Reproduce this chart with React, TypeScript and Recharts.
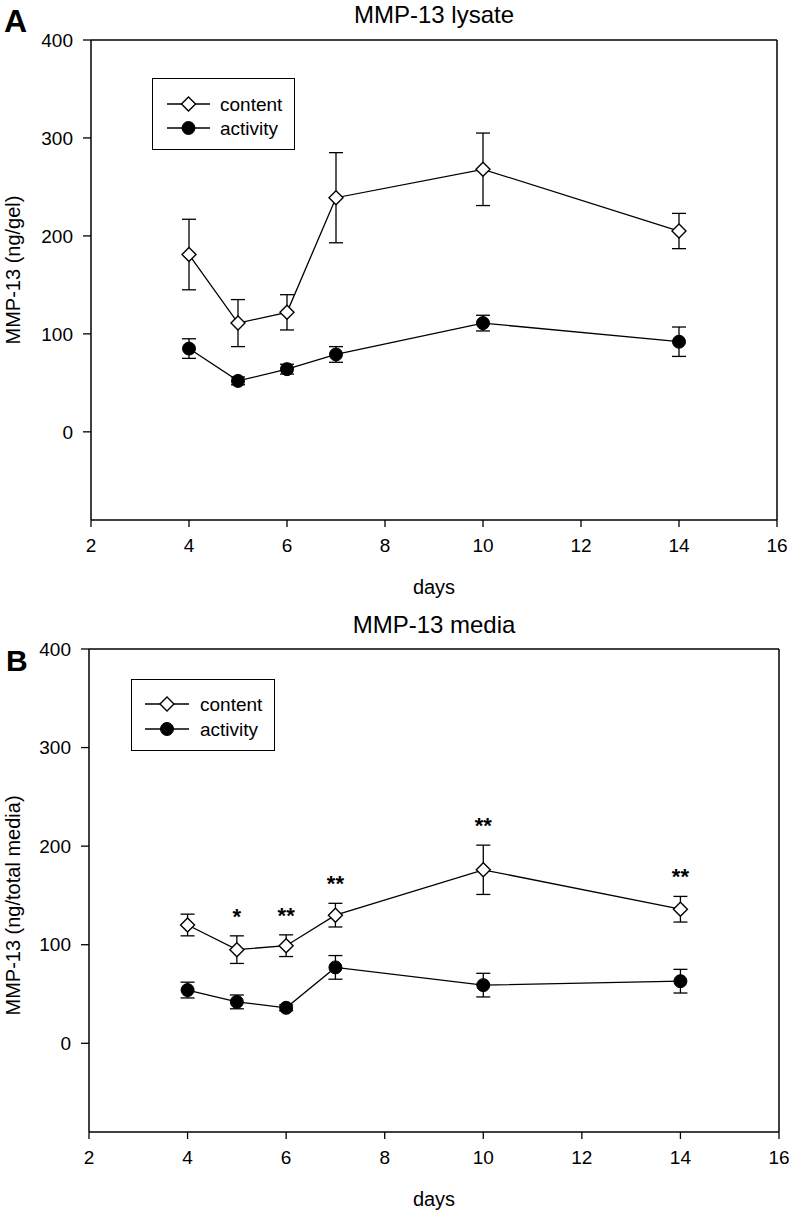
import React from 'react';
import { LineChart, Line, XAxis, YAxis, ErrorBar, ReferenceLine, Label, LabelList, Legend } from 'recharts';

// ---- data ----
const days = [4, 5, 6, 7, 10, 14];
const xTicks = [2, 4, 6, 8, 10, 12, 14, 16];
const yTicks = [0, 100, 200, 300, 400];

const lysateContent = [181, 111, 122, 239, 268, 205];
const lysateContentErr = [36, 24, 18, 46, 37, 18];
const lysateActivity = [85, 52, 64, 79, 111, 92];
const lysateActivityErr = [10, 4, 5, 8, 8, 15];

const mediaContent = [120, 95, 99, 130, 176, 136];
const mediaContentErr = [11, 14, 11, 12, 25, 13];
const mediaActivity = [54, 42, 36, 77, 59, 63];
const mediaActivityErr = [8, 7, 3, 12, 12, 12];
const mediaStars = ['', '*', '**', '**', '**', '**'];

const FONT = 'Arial, "Liberation Sans", Helvetica, sans-serif';

const lysateData = days.map((d, i) => ({
  day: d,
  content: lysateContent[i],
  contentErr: lysateContentErr[i],
  activity: lysateActivity[i],
  activityErr: lysateActivityErr[i],
}));

const mediaData = days.map((d, i) => ({
  day: d,
  content: mediaContent[i],
  contentErr: mediaContentErr[i],
  activity: mediaActivity[i],
  activityErr: mediaActivityErr[i],
  starAnchor: mediaStars[i] ? mediaContent[i] + mediaContentErr[i] : null,
  star: mediaStars[i],
}));

const DiamondDot = (props: any) => {
  const { cx, cy, index } = props;
  if (cx == null || cy == null) return <g key={`dn${index}`} />;
  const r = 7;
  return (
    <polygon
      key={`dd${index}`}
      points={`${cx},${cy - r} ${cx + r},${cy} ${cx},${cy + r} ${cx - r},${cy}`}
      fill="#fff"
      stroke="#000"
      strokeWidth={1.4}
    />
  );
};

const CircleDot = (props: any) => {
  const { cx, cy, index } = props;
  if (cx == null || cy == null) return <g key={`cn${index}`} />;
  return <circle key={`cd${index}`} cx={cx} cy={cy} r={6.5} fill="#000" stroke="#000" strokeWidth={1} />;
};

const LegendBox = ({ lineX1, lineX2, textX, row1, row2 }: any) => (
  <div style={{ width: '100%', height: '100%', border: '1.4px solid #000', boxSizing: 'border-box', background: '#fff' }}>
    <svg width="100%" height="100%" style={{ display: 'block', overflow: 'visible' }}>
      <line x1={lineX1} x2={lineX2} y1={row1} y2={row1} stroke="#000" strokeWidth={1.3} />
      <DiamondDot cx={(lineX1 + lineX2) / 2} cy={row1} index={0} />
      <text x={textX} y={row1} dominantBaseline="central" fontFamily={FONT} fontSize={19} fill="#000">content</text>
      <line x1={lineX1} x2={lineX2} y1={row2} y2={row2} stroke="#000" strokeWidth={1.3} />
      <CircleDot cx={(lineX1 + lineX2) / 2} cy={row2} index={1} />
      <text x={textX} y={row2} dominantBaseline="central" fontFamily={FONT} fontSize={19} fill="#000">activity</text>
    </svg>
  </div>
);

const yLabelContent = (text: string, shift: number) => (props: any) => {
  const vb = props.viewBox || {};
  const cx = 13;
  const cy = vb.y + vb.height / 2 + shift;
  return (
    <text
      x={cx}
      y={cy}
      transform={`rotate(-90, ${cx}, ${cy})`}
      textAnchor="middle"
      dominantBaseline="central"
      fontFamily={FONT}
      fontSize={20}
      fill="#000"
    >
      {text}
    </text>
  );
};

const xLabelContent = (below: number) => (props: any) => {
  const vb = props.viewBox || {};
  return (
    <text x={vb.x + vb.width / 2} y={vb.y + below} textAnchor="middle" fontFamily={FONT} fontSize={20} fill="#000">
      days
    </text>
  );
};

const StarLabel = (props: any) => {
  const { x, y, value, index } = props;
  if (!value || x == null || y == null) return null;
  return (
    <text key={`s${index}`} x={x} y={y - 12} textAnchor="middle" fontFamily={FONT} fontWeight="bold" fontSize={22} fill="#000">
      {value}
    </text>
  );
};

const tickStyle = { fontSize: 19, fill: '#000', fontFamily: FONT };

function Panel(props: any) {
  const { data, top, height, margin, yWidth, yLabel, yShift, legend, stars, daysBelow } = props;
  return (
    <div style={{ position: 'absolute', left: 0, top }}>
      <LineChart width={792} height={height} data={data} margin={margin}>
        <XAxis
          type="number"
          dataKey="day"
          domain={[2, 16]}
          ticks={xTicks}
          interval={0}
          allowDataOverflow
          tickSize={7}
          tickMargin={12}
          height={80}
          tick={tickStyle}
          axisLine={{ stroke: '#000', strokeWidth: 1.5 }}
          tickLine={{ stroke: '#000', strokeWidth: 1.3 }}
        >
          <Label content={xLabelContent(daysBelow)} />
        </XAxis>
        <YAxis
          type="number"
          domain={[-90, 400]}
          ticks={yTicks}
          interval={0}
          allowDataOverflow
          width={yWidth}
          tickSize={8}
          tickMargin={10}
          tick={tickStyle}
          axisLine={{ stroke: '#000', strokeWidth: 1.5 }}
          tickLine={{ stroke: '#000', strokeWidth: 1.3 }}
        >
          <Label content={yLabelContent(yLabel, yShift)} />
        </YAxis>
        <ReferenceLine y={400} stroke="#000" strokeWidth={1.5} />
        <ReferenceLine x={16} stroke="#000" strokeWidth={1.5} />
        <Legend
          layout="vertical"
          verticalAlign="middle"
          align="center"
          wrapperStyle={{ position: 'absolute', left: legend.left, top: legend.top, width: legend.width, height: legend.height }}
          content={() => <LegendBox {...legend} />}
        />
        <Line
          dataKey="activity"
          stroke="#000"
          strokeWidth={1.3}
          isAnimationActive={false}
          dot={CircleDot}
          activeDot={false}
          legendType="none"
        >
          <ErrorBar dataKey="activityErr" width={7} stroke="#000" strokeWidth={1.3} direction="y" />
        </Line>
        <Line
          dataKey="content"
          stroke="#000"
          strokeWidth={1.3}
          isAnimationActive={false}
          dot={DiamondDot}
          activeDot={false}
          legendType="none"
        >
          <ErrorBar dataKey="contentErr" width={7} stroke="#000" strokeWidth={1.3} direction="y" />
        </Line>
        {stars && (
          <Line dataKey="starAnchor" stroke="none" dot={false} activeDot={false} isAnimationActive={false} legendType="none">
            <LabelList dataKey="star" content={StarLabel} />
          </Line>
        )}
      </LineChart>
    </div>
  );
}

export default function App() {
  return (
    <div style={{ position: 'absolute', left: 0, top: 0, width: 792, height: 1215, background: '#fff' }}>
      <Panel
        data={lysateData}
        top={0}
        height={609}
        margin={{ top: 40, right: 15, bottom: 9, left: 0 }}
        yWidth={91}
        yLabel="MMP-13 (ng/gel)"
        yShift={-10}
        daysBelow={74}
        legend={{ left: 152, top: 78, width: 143, height: 72, lineX1: 14, lineX2: 57, textX: 67, row1: 25, row2: 49 }}
        stars={false}
      />
      <Panel
        data={mediaData}
        top={609}
        height={606}
        margin={{ top: 40, right: 13, bottom: 3, left: 0 }}
        yWidth={89}
        yLabel="MMP-13 (ng/total media)"
        yShift={15}
        daysBelow={74}
        legend={{ left: 131, top: 70, width: 144, height: 72, lineX1: 13, lineX2: 57, textX: 68, row1: 24, row2: 49 }}
        stars={true}
      />
      <svg width={792} height={1215} style={{ position: 'absolute', left: 0, top: 0, pointerEvents: 'none' }}>
        <text x={434} y={23} textAnchor="middle" fontFamily={FONT} fontSize={24} fill="#000">MMP-13 lysate</text>
        <text x={4} y={32} fontFamily={FONT} fontWeight="bold" fontSize={32} fill="#000">A</text>
        <text x={434} y={633} textAnchor="middle" fontFamily={FONT} fontSize={24} fill="#000">MMP-13 media</text>
        <text x={6} y={671} fontFamily={FONT} fontWeight="bold" fontSize={30} fill="#000">B</text>
      </svg>
    </div>
  );
}
